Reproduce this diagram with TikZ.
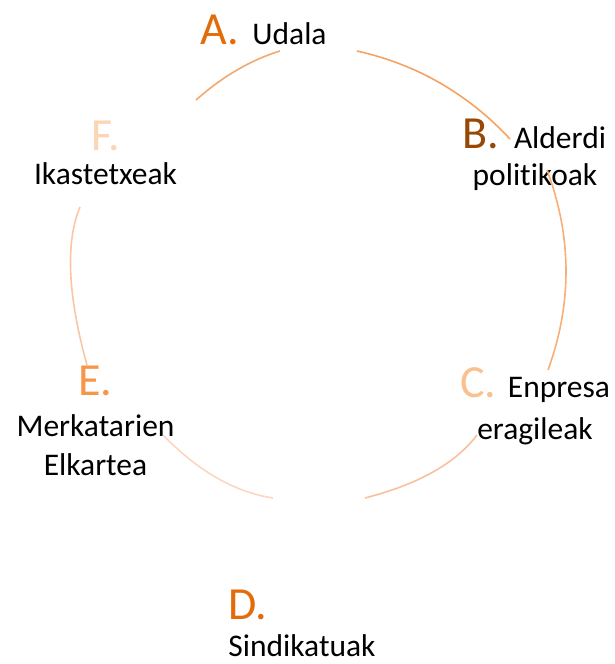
\documentclass[tikz,border=0pt]{standalone}
\usepackage{fontspec}
\setmainfont{Carlito}[Ligatures=NoCommon]
\definecolor{cA}{HTML}{E36C09}
\definecolor{cB}{HTML}{984806}
\definecolor{cC}{HTML}{FAC08F}
\definecolor{cD}{HTML}{E36C09}
\definecolor{cE}{HTML}{F79646}
\definecolor{cF}{HTML}{FCD5B4}
\definecolor{aAB}{HTML}{F5A362}
\definecolor{aBC}{HTML}{F7AE78}
\definecolor{aCD}{HTML}{FAC09E}
\definecolor{aDE}{HTML}{FCD6C2}
\definecolor{aEF}{HTML}{FAC6A4}
\definecolor{aFA}{HTML}{F5A86C}
\begin{document}
\begin{tikzpicture}[x=1pt,y=-1pt,
  letter/.style={anchor=base,inner sep=0pt,font=\fontsize{46}{50}\selectfont},
  label/.style={anchor=base,inner sep=0pt,font=\fontsize{31.5}{36}\selectfont},
  arcline/.style={line width=1.6pt}]
\useasboundingbox (0,0) rectangle (614,664);
% letters and labels
\node[letter,text=cA] (la) at (219.5,44) {A.};
\node[label] (ta) at (289.5,44) {Udala};
\node[letter,text=cB] (lb) at (481,148) {B.};
\node[label] (tb1) at (560,148) {Alderdi};
\node[label] (tb2) at (535,185) {politikoak};
\node[letter,text=cC] (lc) at (478.5,397) {C.};
\node[label] (tc1) at (559,397) {Enpresa};
\node[label] (tc2) at (535,439) {eragileak};
\node[letter,text=cD] (ld) at (247.5,619) {D.};
\node[label] (td) at (302,656) {Sindikatuak};
\node[letter,text=cE] (le) at (95.5,395) {E.};
\node[label] (te1) at (95.5,436) {Merkatarien};
\node[label] (te2) at (95.5,475) {Elkartea};
\node[letter,text=cF] (lf) at (105.5,150) {F.};
\node[label] (tf) at (105.5,184) {Ikastetxeak};
% arc end points
\coordinate (ab0) at (357,51);   \coordinate (ab1) at (510,139);
\coordinate (bc0) at (547,170);  \coordinate (bc1) at (548,370);
\coordinate (cd0) at (477,435);  \coordinate (cd1) at (365,498);
\coordinate (de0) at (273,498);  \coordinate (de1) at (163,435);
\coordinate (ef0) at (87,365);   \coordinate (ef1) at (80,207);
\coordinate (fa0) at (196,100);  \coordinate (fa1) at (280,51);
% arcs
\draw[arcline,aAB] (ab0) .. controls (416.7,64.3) and (467.7,93.7) .. (ab1);
\draw[arcline,aBC] (bc0) .. controls (572,236.7) and (572.3,303.3) .. (bc1);
\draw[arcline,aCD] (cd0) .. controls (455.7,463.3) and (418.3,484.3) .. (cd1);
\draw[arcline,aDE] (de0) .. controls (235,492.3) and (198.3,471.3) .. (de1);
\draw[arcline,aEF] (ef0) .. controls (67.6,295) and (65.3,242.3) .. (ef1);
\draw[arcline,aFA] (fa0) .. controls (222.7,76.3) and (250.7,60) .. (fa1);
\end{tikzpicture}
\end{document}
